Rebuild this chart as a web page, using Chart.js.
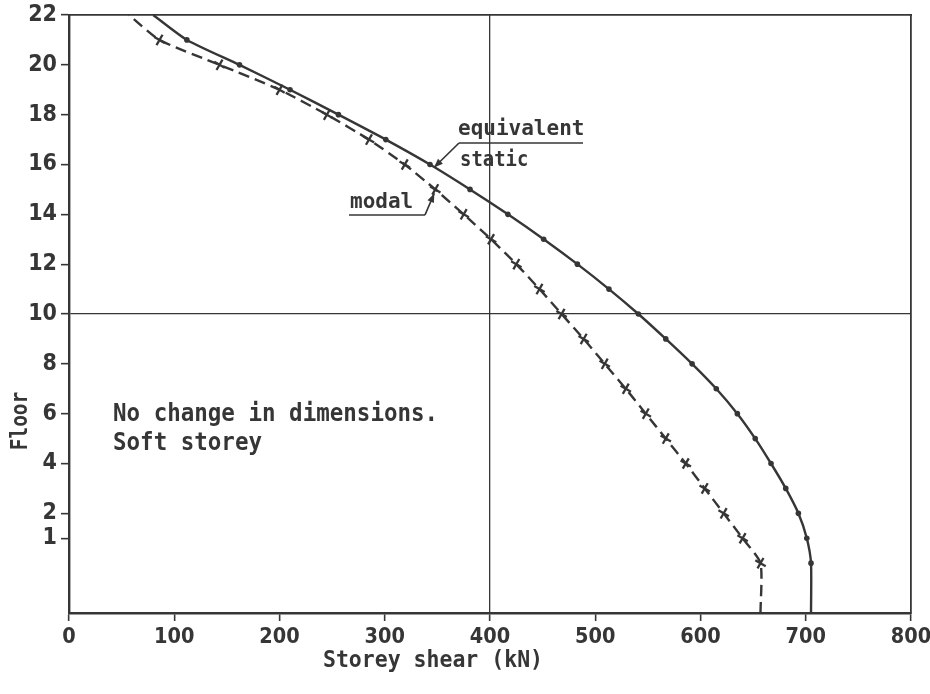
<!DOCTYPE html>
<html>
<head>
<meta charset="utf-8">
<title>Storey shear</title>
<script src="https://cdn.jsdelivr.net/npm/chart.js@4.4.1/dist/chart.umd.min.js"></script>
<style>
  html, body { margin: 0; padding: 0; background: #fff; }
  #wrap { width: 930px; height: 694px; }
</style>
</head>
<body>
<div id="wrap"><canvas id="shearChart" width="930" height="694"></canvas></div>
<script>
// storey shear per floor, kN (floor -2 is the base line)
const floors = [-2, 0, 1, 2, 3, 4, 5, 6, 7, 8, 9, 10, 11, 12, 13, 14, 15, 16, 17, 18, 19, 20, 21, 22];
const staticShear = [705, 705, 701, 693, 681, 667, 652, 635, 615, 592, 567, 541, 513, 483, 451, 417, 381, 343, 301, 256, 210, 162, 112, 80];
const modalShear = [657, 657, 640, 622, 604, 586, 567, 548, 529, 509, 489, 468, 447, 425, 401, 375, 348, 319, 285, 245, 200, 143, 86, 57];

const shearTicks = [0, 100, 200, 300, 400, 500, 600, 700, 800];
const floorTicks = [1, 2, 4, 6, 8, 10, 12, 14, 16, 18, 20, 22];
const shearGuide = 400;
const floorGuide = 10;

const ink = "#363636";
const tickFont = "'Liberation Sans Narrow', 'DejaVu Sans Condensed', 'DejaVu Sans Mono'";
const noteFont = "'DejaVu Sans Mono'";

const points = values => floors.map((f, i) => ({ x: values[i], y: f }));
const isEnd = ctx => floors[ctx.dataIndex] === -2 || floors[ctx.dataIndex] === 22;

function text(ctx, str, x, y, o) {
  ctx.save();
  ctx.translate(x, y);
  if (o.rotate) ctx.rotate(o.rotate);
  ctx.scale(o.sx || 1, o.sy || 1);
  ctx.font = `bold ${o.size}px ${noteFont}`;
  ctx.textAlign = o.align || "left";
  ctx.textBaseline = o.baseline || "alphabetic";
  ctx.fillText(str, 0, 0);
  ctx.restore();
}

function arrow(ctx, x0, y0, x1, y1) {
  const a = Math.atan2(y1 - y0, x1 - x0);
  ctx.beginPath();
  ctx.moveTo(x0, y0);
  ctx.lineTo(x1, y1);
  ctx.stroke();
  ctx.beginPath();
  ctx.moveTo(x1, y1);
  ctx.lineTo(x1 - 9 * Math.cos(a) + 3.5 * Math.sin(a), y1 - 9 * Math.sin(a) - 3.5 * Math.cos(a));
  ctx.lineTo(x1 - 9 * Math.cos(a) - 3.5 * Math.sin(a), y1 - 9 * Math.sin(a) + 3.5 * Math.cos(a));
  ctx.closePath();
  ctx.fill();
}

// labels, leaders and axis titles
const notes = {
  id: "notes",
  afterDraw(chart) {
    const { ctx, scales: { x, y } } = chart;
    ctx.save();
    ctx.fillStyle = ink;
    ctx.strokeStyle = ink;
    ctx.lineWidth = 1.7;

    text(ctx, "equivalent", 458, 135, { size: 21, sy: 1.05 });
    text(ctx, "static", 460, 166, { size: 21, sx: 0.9, sy: 1.05 });
    ctx.beginPath();
    ctx.moveTo(459, 143);
    ctx.lineTo(583, 143);
    ctx.stroke();
    const iS = floors.indexOf(16);
    arrow(ctx, 459, 143, x.getPixelForValue(staticShear[iS]) + 4, y.getPixelForValue(16) + 3);

    text(ctx, "modal", 350, 208, { size: 21, sy: 1.05 });
    ctx.beginPath();
    ctx.moveTo(349, 215);
    ctx.lineTo(425, 215);
    ctx.stroke();
    const iM = floors.indexOf(15);
    arrow(ctx, 425, 215, x.getPixelForValue(modalShear[iM]) - 1, y.getPixelForValue(15) + 4);

    text(ctx, "No change in dimensions.", 113, 421, { size: 22.5, sy: 1.08 });
    text(ctx, "Soft storey", 113, 450, { size: 22.5, sy: 1.08 });

    text(ctx, "Storey shear (kN)", 433, 661, { size: 21.5, sy: 1.08, align: "center", baseline: "middle" });
    text(ctx, "Floor", 21, 421, { size: 22, sx: 0.88, sy: 1.05, rotate: -Math.PI / 2, align: "center", baseline: "middle" });
    ctx.restore();
  }
};

new Chart(document.getElementById("shearChart"), {
  type: "scatter",
  data: {
    datasets: [
      {
        label: "equivalent static",
        data: points(staticShear),
        showLine: true,
        tension: 0.2,
        borderColor: ink,
        borderWidth: 2.4,
        pointStyle: "circle",
        pointRadius: ctx => (isEnd(ctx) ? 0 : 2.8),
        pointBackgroundColor: ink,
        pointBorderWidth: 0
      },
      {
        label: "modal",
        data: points(modalShear),
        showLine: true,
        tension: 0.2,
        borderColor: ink,
        borderWidth: 2.4,
        borderDash: [11, 6],
        pointStyle: "cross",
        pointRotation: 30,
        pointRadius: ctx => (isEnd(ctx) ? 0 : 6),
        pointBorderColor: ink,
        pointBorderWidth: 2.3
      }
    ]
  },
  options: {
    responsive: false,
    animation: false,
    events: [],
    layout: { padding: { top: 15, right: 19, left: 0, bottom: 0 } },
    plugins: { legend: { display: false }, tooltip: { enabled: false } },
    scales: {
      x: {
        type: "linear",
        position: "bottom",
        min: 0,
        max: 800,
        afterBuildTicks: s => { s.ticks = shearTicks.map(v => ({ value: v })); },
        afterFit: s => { s.height = 81; s.paddingLeft = 0; s.paddingRight = 0; },
        ticks: { autoSkip: false, maxRotation: 0, color: ink, padding: 4, font: { family: tickFont, size: 21.5, weight: "bold" } },
        grid: {
          color: c => (c.tick && c.tick.value === shearGuide ? ink : "rgba(0,0,0,0)"),
          lineWidth: 1.3,
          tickColor: ink,
          tickLength: 8,
          tickWidth: 1.6
        },
        border: { display: true, color: ink, width: 2.4 }
      },
      y: {
        type: "linear",
        position: "left",
        min: -2,
        max: 22,
        afterBuildTicks: s => { s.ticks = floorTicks.map(v => ({ value: v })); },
        afterFit: s => { s.width = 69; s.paddingTop = 0; s.paddingBottom = 0; },
        ticks: { autoSkip: false, color: ink, padding: 4, font: { family: tickFont, size: 23, weight: "bold" } },
        grid: {
          color: c => (c.tick && c.tick.value === floorGuide ? ink : "rgba(0,0,0,0)"),
          lineWidth: 1.3,
          tickColor: ink,
          tickLength: 8,
          tickWidth: 1.6
        },
        border: { display: true, color: ink, width: 2.4 }
      },
      xTop: {
        type: "linear",
        position: "top",
        min: 0,
        max: 800,
        display: true,
        afterFit: s => { s.height = 0; s.paddingLeft = 0; s.paddingRight = 0; },
        ticks: { display: false },
        grid: { display: false, drawTicks: false },
        border: { display: true, color: ink, width: 1.8 }
      },
      yRight: {
        type: "linear",
        position: "right",
        min: -2,
        max: 22,
        display: true,
        afterFit: s => { s.width = 0; s.paddingTop = 0; s.paddingBottom = 0; },
        ticks: { display: false },
        grid: { display: false, drawTicks: false },
        border: { display: true, color: ink, width: 1.8 }
      }
    }
  },
  plugins: [notes]
});
</script>
</body>
</html>
